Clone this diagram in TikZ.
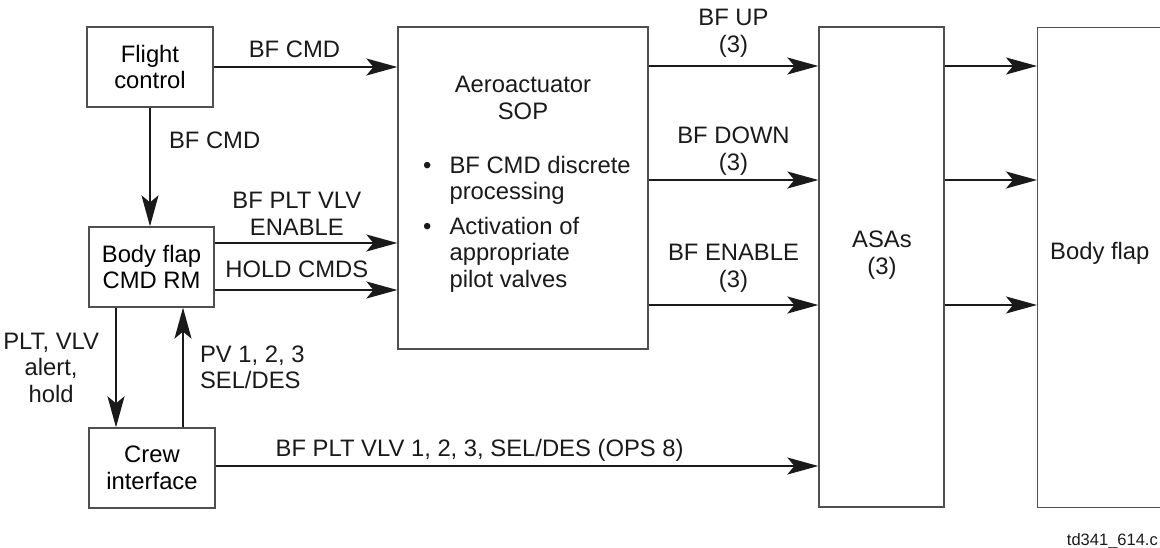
\documentclass[tikz,border=0pt]{standalone}
\usepackage{fontspec}
\setmainfont{Liberation Sans}
\usetikzlibrary{arrows.meta, positioning}
\definecolor{ink}{HTML}{1A1A1A}
\definecolor{frame}{HTML}{505050}

\begin{document}
\begin{tikzpicture}[
  x=1pt, y=-1pt,
  font=\fontsize{23.8}{26.5}\selectfont,
  blk/.style={draw=frame, line width=1.3pt, fill=white, align=center, inner sep=0pt},
  sig/.style={-{Stealth[length=31pt, width=17pt, inset=7pt]}, draw=ink, line width=2pt},
  lbl/.style={align=center, inner sep=0pt, text=ink}
]
  \useasboundingbox (0,0) rectangle (1160,547);
  \clip (0,0) rectangle (1160,547);

  % left column
  \node[blk, minimum width=126pt, minimum height=80pt] (fc) at (150,67) {Flight\\control};
  \node[blk, minimum width=125pt, minimum height=80pt] (rm) at (151.5,267) {Body flap\\CMD RM};
  \node[blk, minimum width=126pt, minimum height=80pt] (ci) at (152,468) {Crew\\interface};

  % processing box
  \node[blk, minimum width=250pt, minimum height=322pt] (sop) at (523,188) {};
  \node[lbl] (soptitle) at (523,98) {Aeroactuator\\SOP};
  \node[lbl, anchor=west] (soplist) at (423,224.7) {%
    \begin{tabular}{@{}l@{\hspace{18pt}}l@{}}
      \textbullet & BF CMD discrete\\
                  & processing\\[8pt]
      \textbullet & Activation of\\
                  & appropriate\\
                  & pilot valves
    \end{tabular}};

  % right column
  \node[blk, minimum width=125pt, minimum height=480pt] (asa) at (881.5,267) {};
  \node[lbl] (asatxt) at (882,255) {ASAs\\(3)};
  \node[blk, minimum width=160pt, minimum height=480pt, anchor=north west] (bf) at (1037,27) {};
  \node[lbl, anchor=base west] (bftxt) at (1050,259) {Body flap};

  % signals
  \draw[sig] (fc.east) -- (fc.east -| sop.west)
        node[lbl, above=8pt, pos=0.44] {BF CMD};
  \draw[sig] (fc.south) -- (fc.south |- rm.north)
        node[lbl, right=18pt, pos=0.275] {BF CMD};
  \draw[sig] ([yshift=24pt]rm.east) -- ([yshift=24pt]rm.east -| sop.west)
        node[lbl, above=7pt, pos=0.45] {BF PLT VLV\\ENABLE};
  \draw[sig] ([yshift=-23pt]rm.east) -- ([yshift=-23pt]rm.east -| sop.west)
        node[lbl, above=11pt, pos=0.45] {HOLD CMDS};
  \draw[sig] ([xshift=-35.5pt]rm.south) -- ([xshift=-35.5pt]rm.south |- ci.north)
        node[lbl, left=16pt, midway] {PLT, VLV\\alert,\\hold};
  \draw[sig] ([xshift=31pt]ci.north) -- ([xshift=31pt]ci.north |- rm.south)
        node[lbl, right=16pt, midway, align=left] {PV 1, 2, 3\\SEL/DES};
  \draw[sig] ([yshift=2pt]ci.east) -- ([yshift=2pt]ci.east -| asa.west)
        node[lbl, above=4pt, pos=0.438] {BF PLT VLV 1, 2, 3, SEL/DES (OPS 8)};

  \foreach \dy/\txt/\gap in {122/BF UP/8, 8/BF DOWN/4, -117/BF ENABLE/12} {
    \draw[sig] ([yshift=\dy pt]sop.east) -- ([yshift=\dy pt]sop.east -| asa.west)
          node[lbl, above=\gap pt, midway] {\txt\\(3)};
    \draw[sig] ([yshift=\dy pt]sop.east -| asa.east) -- ([yshift=\dy pt]sop.east -| bf.west);
  }

  \node[lbl, anchor=base east, font=\fontsize{16.5}{20}\selectfont] (tag) at (1158,545) {td341\_614.c};
\end{tikzpicture}
\end{document}
